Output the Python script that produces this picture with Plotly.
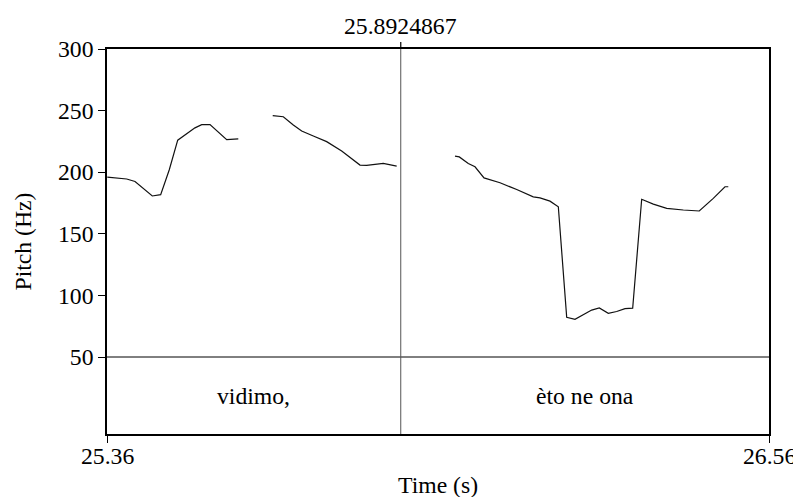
import plotly.graph_objects as go

# Pitch contour (three voiced segments), times in s, pitch in Hz
seg1_t = [25.3605, 25.3957, 25.4108, 25.4320, 25.4421, 25.4573, 25.4729, 25.4882,
          25.5195, 25.5317, 25.5467, 25.5770, 25.5980]
seg1_f = [196, 194.5, 192.5, 184.7, 180.7, 181.8, 202, 226, 236, 238.6, 238.6, 226.4, 227]

seg2_t = [25.6604, 25.6796, 25.6977, 25.7129, 25.7340, 25.7582, 25.7854, 25.8005,
          25.8186, 25.8307, 25.8608, 25.8851]
seg2_f = [245.9, 245, 238.3, 233.4, 229.4, 224.8, 217.2, 212, 205.8, 205.6, 207.2, 205]

seg3_t = [25.9908, 25.9986, 26.0149, 26.0271, 26.0434, 26.0724, 26.1027, 26.1327,
          26.1449, 26.1630, 26.1781, 26.1933, 26.2083, 26.2386, 26.2524, 26.2687,
          26.2839, 26.2990, 26.3129, 26.3292, 26.3503, 26.3746, 26.4047, 26.4336,
          26.4590, 26.4802, 26.4862]
seg3_f = [213, 212.4, 207, 204.4, 195.4, 191.4, 186, 180, 179.2, 176.5, 171.9, 82.2,
          80.6, 88.1, 89.8, 85.5, 86.9, 89.3, 89.6, 178, 174.1, 170.6, 169.3, 168.5,
          178.8, 188.2, 188.2]

t_start, t_end = 25.36, 26.56
x_tick_labels = ["25.36", "26.56"]
cursor_t = 25.8924867
y_ticks = [50, 100, 150, 200, 250, 300]
tier_labels = ["vidimo,", "èto ne ona"]
tier_bounds = [t_start, cursor_t, t_end]

FONT = "Liberation Serif, Times New Roman, serif"
FS = 23.7
y_low = -12.5  # bottom of the text tier in pitch-axis units

xs = seg1_t + [None] + seg2_t + [None] + seg3_t
ys = seg1_f + [None] + seg2_f + [None] + seg3_f

fig = go.Figure()
fig.add_trace(go.Scatter(x=xs, y=ys, mode="lines", connectgaps=False,
                         line=dict(color="#111111", width=1.2), hoverinfo="skip"))

# horizontal separator at 50 Hz
fig.add_shape(type="line", xref="x", yref="y", x0=t_start, x1=t_end, y0=50, y1=50,
              line=dict(color="black", width=1))
# cursor line
fig.add_shape(type="line", xref="x", yref="paper", x0=cursor_t, x1=cursor_t, y0=0, y1=1,
              line=dict(color="#555555", width=1))
# small tick above the frame at the cursor
fig.add_shape(type="line", xref="x", yref="paper", x0=cursor_t, x1=cursor_t, y0=1, y1=1.018,
              line=dict(color="black", width=1.2))

fig.add_annotation(x=cursor_t, y=1, xref="x", yref="paper", text=f"{cursor_t}",
                   showarrow=False, yanchor="bottom", yshift=8,
                   font=dict(family=FONT, size=FS, color="black"))

for i, lab in enumerate(tier_labels):
    fig.add_annotation(x=(tier_bounds[i] + tier_bounds[i + 1]) / 2, y=(50 + y_low) / 2,
                       xref="x", yref="y", text=lab, showarrow=False,
                       font=dict(family=FONT, size=FS, color="black"))

# x tick labels as annotations (placed closer to the frame than plotly's default)
for tv, tl in zip([t_start, t_end], x_tick_labels):
    fig.add_annotation(x=tv, y=0, xref="x", yref="paper", text=tl, showarrow=False,
                       yanchor="middle", yshift=-22,
                       font=dict(family=FONT, size=FS, color="black"))

fig.add_annotation(x=0.5, y=0, xref="paper", yref="paper", text="Time (s)",
                   showarrow=False, yanchor="middle", yshift=-51,
                   font=dict(family=FONT, size=FS, color="black"))
fig.add_annotation(x=0, y=0.5, xref="paper", yref="paper", text="Pitch (Hz)",
                   showarrow=False, textangle=-90, xanchor="center", xshift=-85,
                   font=dict(family=FONT, size=FS, color="black"))

fig.update_xaxes(range=[t_start, t_end], tickvals=[t_start, t_end],
                 showticklabels=False,
                 showgrid=False, zeroline=False, showline=True, mirror=True,
                 linecolor="black", linewidth=1.5, ticks="outside", ticklen=7,
                 tickcolor="black", tickwidth=1.2)
fig.update_yaxes(range=[y_low, 300], tickvals=y_ticks,
                 showgrid=False, zeroline=False, showline=True, mirror=True,
                 linecolor="black", linewidth=1.5, ticks="outside", ticklen=7,
                 tickcolor="black", tickwidth=1.2,
                 tickfont=dict(family=FONT, size=FS, color="black"))

# the page body adds an 8px offset on the top/left, so the figure is 8px smaller
fig.update_layout(width=793, height=489, margin=dict(l=99, r=32, t=41, b=63),
                  plot_bgcolor="white", paper_bgcolor="white", showlegend=False)

fig.write_html("out.html")
